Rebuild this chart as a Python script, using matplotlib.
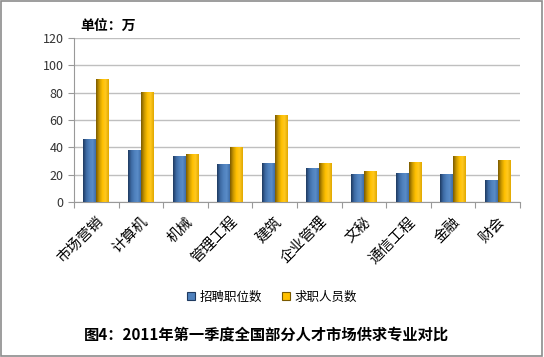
import matplotlib.pyplot as plt
import numpy as np
from matplotlib.colors import LinearSegmentedColormap
from matplotlib.patches import Rectangle

plt.rcParams['font.family'] = ['Noto Sans CJK SC', 'DejaVu Sans']

categories = ["市场营销", "计算机", "机械", "管理工程", "建筑",
              "企业管理", "文秘", "通信工程", "金融", "财会"]
jobs = [46, 38, 33.7, 27.6, 28.8, 25, 20.7, 21.4, 20.7, 15.9]        # 招聘职位数
seekers = [90, 80.5, 35, 40.5, 63.4, 28.8, 22.7, 29.3, 33.7, 30.7]  # 求职人员数
series_names = ["招聘职位数", "求职人员数"]

BLUE = "#4F81BD"
GOLD = "#FFC000"
blue_cm = LinearSegmentedColormap.from_list("b", ["#1f3a60", "#3d6aa3", BLUE, "#5a8cc8", "#3f6ea8"])
gold_cm = LinearSegmentedColormap.from_list("g", ["#7a5a00", "#c99800", GOLD, "#ffc820", "#e0a800"])


def shade(ax, bars, cmap):
    grad = np.linspace(0, 1, 64).reshape(1, -1)
    for b in bars:
        x0, y0 = b.get_x(), b.get_y()
        w, h = b.get_width(), b.get_height()
        im = ax.imshow(grad, cmap=cmap, aspect="auto",
                       extent=(x0, x0 + w, y0, y0 + h), zorder=3)
        im.set_clip_path(b)


fig = plt.figure(figsize=(5.44, 3.57), dpi=100)
ax = fig.add_axes([0.136, 0.434, 0.82, 0.46])

x = np.arange(len(categories))
w = 0.29
b1 = ax.bar(x - w / 2, jobs, w, color=BLUE, label=series_names[0], zorder=2)
b2 = ax.bar(x + w / 2, seekers, w, color=GOLD, label=series_names[1], zorder=2)
shade(ax, b1, blue_cm)
shade(ax, b2, gold_cm)

ax.set_xlim(-0.5, len(categories) - 0.5)
ax.set_ylim(0, 120)
ax.set_yticks(range(0, 121, 20))
ax.yaxis.grid(True, color="#BFBFBF", linewidth=1.0, zorder=0)
ax.set_axisbelow(True)

ax.set_xticks(np.arange(-0.5, len(categories), 1.0), minor=False)
ax.set_xticklabels([])
ax.set_xticks(x, minor=True)
ax.set_xticklabels(categories, minor=True, rotation=45, ha="right",
                   rotation_mode="anchor", fontsize=10.5)
ax.tick_params(axis="x", which="minor", length=0, pad=9)
ax.tick_params(axis="x", which="major", length=4, color="#999999")
ax.tick_params(axis="y", length=4, color="#999999", labelsize=9, labelcolor="#333333")

for s in ("top", "right"):
    ax.spines[s].set_visible(False)
ax.spines["left"].set_color("#999999")
ax.spines["bottom"].set_color("#999999")

fig.text(0.148, 0.915, "单位：万", fontsize=10, fontweight="bold", ha="left")

handles = [Rectangle((0, 0), 1, 1, facecolor=BLUE, edgecolor="#1f3a60", lw=0.8),
           Rectangle((0, 0), 1, 1, facecolor=GOLD, edgecolor="#7a5a00", lw=0.8)]
fig.legend(handles, series_names, loc="center", bbox_to_anchor=(0.5, 0.168),
           ncol=2, frameon=False, fontsize=9, handlelength=0.6, handleheight=0.6,
           handletextpad=0.4, columnspacing=1.6)

fig.text(0.49, 0.062, "图4：2011年第一季度全国部分人才市场供求专业对比",
         ha="center", va="center", fontsize=11, fontweight="bold")

fig.patches.append(Rectangle((0.002, 0.003), 0.994, 0.993, transform=fig.transFigure,
                             fill=False, edgecolor="#8c8c8c", lw=1.2))

fig.savefig("out.png", dpi=100)
